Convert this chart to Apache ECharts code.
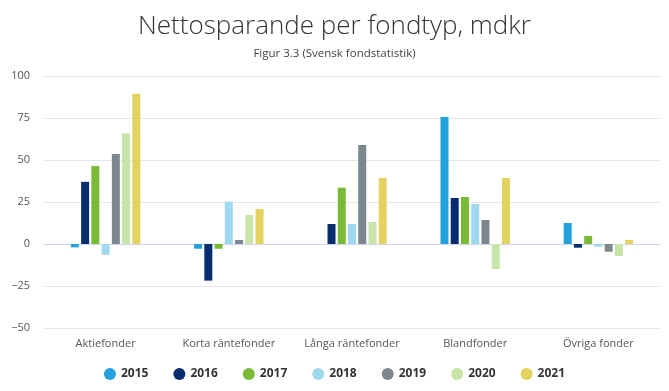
<!DOCTYPE html>
<html><head><meta charset="utf-8">
<script src="https://cdn.jsdelivr.net/npm/echarts@6/dist/echarts.min.js"></script>
<style>html,body{margin:0;padding:0;background:#fff}#c{width:669px;height:391px}</style>
</head><body><div id="c"></div>
<script>
const categories = ['Aktiefonder','Korta räntefonder','Långa räntefonder','Blandfonder','Övriga fonder'];
const years = ['2015','2016','2017','2018','2019','2020','2021'];
const colors = ['#23a1dc','#062e6e','#7aba36','#a0d8f0','#7c878e','#c9e4a8','#e3d160'];
const v2015 = [-2, -2.8, 0, 75.6, 12.5];
const v2016 = [37, -21.8, 11.9, 27.4, -2.2];
const v2017 = [46.4, -2.8, 33.5, 28, 4.8];
const v2018 = [-6.4, 25.2, 11.9, 23.8, -1.6];
const v2019 = [53.6, 2.4, 58.9, 14.3, -4.6];
const v2020 = [65.7, 17.3, 13.1, -14.9, -7.1];
const v2021 = [89.5, 20.8, 39.3, 39.3, 2.4];
const seriesValues = [v2015, v2016, v2017, v2018, v2019, v2020, v2021];
const yTicks = {min: -50, max: 100, interval: 25};

const chart = echarts.init(document.getElementById('c'));
chart.setOption({
  animation: false,
  title: {
    text: 'Nettosparande per fondtyp, mdkr',
    subtext: 'Figur 3.3 (Svensk fondstatistik)',
    left: 'center', top: 9, itemGap: 8,
    textStyle: {fontFamily: 'Open Sans', fontWeight: 300, fontSize: 26, color: '#333'},
    subtextStyle: {fontFamily: 'Open Sans', fontSize: 11.5, color: '#444'}
  },
  legend: {
    bottom: 6, left: 'center', icon: 'circle', itemWidth: 12, itemHeight: 12, itemGap: 25,
    textStyle: {fontFamily: 'Open Sans', fontWeight: 'bold', fontSize: 12, color: '#333'}
  },
  grid: {left: 44, right: 9, top: 76, bottom: 63},
  xAxis: {
    type: 'category', data: categories,
    axisLine: {lineStyle: {color: '#ccd6eb'}},
    axisTick: {show: false},
    axisLabel: {fontFamily: 'Open Sans', fontSize: 11, color: '#555', margin: 10, interval: 0}
  },
  yAxis: {
    type: 'value', min: yTicks.min, max: yTicks.max, interval: yTicks.interval,
    axisLabel: {fontFamily: 'Open Sans', fontSize: 11, color: '#555', margin: 14,
      formatter: v => String(v).replace('-', '\u2212')},
    splitLine: {lineStyle: {color: '#e6e6e6'}}
  },
  series: years.map((y, i) => ({
    name: y, type: 'bar', data: seriesValues[i], barWidth: 8, barGap: '28%',
    itemStyle: {color: colors[i]}
  }))
});
</script></body></html>
